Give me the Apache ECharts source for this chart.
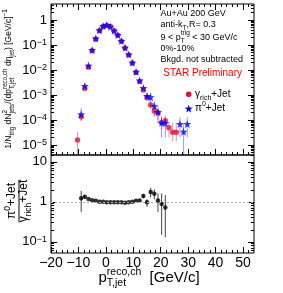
<!DOCTYPE html>
<html><head><meta charset="utf-8">
<script src="https://cdn.jsdelivr.net/npm/echarts@6/dist/echarts.min.js"></script>
<style>html,body{margin:0;padding:0;background:#fff}#c{width:283px;height:293px}</style>
</head><body><div id="c"></div>
<script>
// ---------------- data ----------------
const xBins = [-10.33,-9,-7.67,-6.33,-5,-3.67,-2.33,-1,0.33,1.67,3,4.33,5.67,7,8.33,9.67,11,12.33,13.67,15,16.33,17.67,19,20.33,21.67,23,24.33,25.67,27,28.33,29.67];
const gammaY = [1.6e-5,1.35e-4,1.8e-3,1.3e-2,5.9e-2,0.17,0.37,0.55,0.60,0.55,0.37,0.245,0.14,0.075,0.040,0.019,0.0079,0.0035,1.6e-3,8.0e-4,4.0e-4,2.3e-4,1.9e-4,8.0e-5,9.3e-5,4.9e-5,3.2e-5,3.2e-5,null,null,null];
const pi0Y   = [null,1.7e-4,2.3e-3,1.5e-2,6.3e-2,0.185,0.39,0.575,0.63,0.54,0.37,0.25,0.145,0.078,0.042,0.0196,0.0085,0.0038,1.9e-3,9.1e-4,8.1e-4,3.6e-4,2.1e-4,7.8e-5,7.5e-5,null,null,null,6.9e-5,3.4e-5,6.9e-5];
const gammaLo = [0,9e-5,1.5e-3,null,null,null,null,null,null,null,null,null,null,null,null,null,null,null,null,6e-4,2.7e-4,1.3e-4,1.0e-4,4e-5,4.5e-5,2e-5,1.4e-5,1.4e-5,null,null,null];
const gammaHi = [3.3e-5,1.8e-4,2.1e-3,null,null,null,null,null,null,null,null,null,null,null,null,null,null,null,null,1.0e-3,5.5e-4,3.3e-4,2.8e-4,1.3e-4,1.5e-4,8e-5,7.6e-5,7.6e-5,null,null,null];
const pi0Lo = [null,9.5e-5,1.8e-3,null,null,null,null,null,null,null,null,null,null,null,null,null,null,null,null,6e-4,3.5e-4,1.5e-4,7e-5,2e-5,2e-5,null,null,null,2e-5,0,2e-5];
const pi0Hi = [null,3.0e-4,2.8e-3,null,null,null,null,null,null,null,null,null,null,null,null,null,null,null,null,1.2e-3,1.2e-3,5.6e-4,3.5e-4,1.4e-4,1.3e-4,null,null,null,1.3e-4,7e-5,1.3e-4];
const ratioY  = [null,1.22,1.33,1.17,1.10,1.06,1.0,1.0,0.98,0.98,0.98,0.98,0.97,0.94,0.98,1.0,1.06,1.08,1.39,0.97,1.75,1.6,1.08,0.88,0.72,null,null,null,null,null,null];
const ratioLo = [null,0.56,1.2,null,null,null,null,null,null,null,null,null,null,null,null,null,null,null,1.22,0.75,1.29,1.15,0.56,0.15,0.13,null,null,null,null,null,null];
const ratioHi = [null,1.88,1.47,null,null,null,null,null,null,null,null,null,null,null,null,null,null,null,1.58,1.15,2.24,2.04,1.62,1.62,1.47,null,null,null,null,null,null];
const xTickLabels = [-20,-10,0,10,20,30,40,50];
const topYTicks = [1e-5,1e-4,1e-3,1e-2,1e-1,1];
const ratioYTicks = [0.1,1,10];

// ---------------- helpers ----------------
const FONT = '"Liberation Sans", Arial, Helvetica, sans-serif';
const X_MIN = -20, X_MAX = 54;
const TOP_MIN = Math.pow(10,-5.4), TOP_MAX = Math.pow(10,0.64);
const R_MIN = Math.pow(10,-1.28), R_MAX = Math.pow(10,1.17);
const ctx = document.createElement('canvas').getContext('2d');
function tw(t, s){ ctx.font = s+'px '+FONT; return ctx.measureText(t).width; }
function txt(t,x,y,s,color){ return {type:'text', x:x, y:y, silent:true, style:{text:t, font:s+'px '+FONT, fill:color, align:'left', verticalAlign:'middle', textAlign:'left', textVerticalAlign:'middle'}}; }
function mathLine(parts, size, ss, color, supK, subK){
  let x=0; const els=[];
  parts.forEach(p=>{
    if (typeof p==='string'){ els.push(txt(p,x,0,size,color)); x+=tw(p,size); }
    else { let w=0;
      if (p.sup){ els.push(txt(p.sup,x,-size*supK,ss,color)); w=Math.max(w,tw(p.sup,ss)); }
      if (p.sub){ els.push(txt(p.sub,x,size*subK,ss,color)); w=Math.max(w,tw(p.sub,ss)); }
      x+=w; }
  });
  return {els:els, width:x};
}
function shift(els, dx, dy){ return els.map(e=>Object.assign({}, e, {x:e.x+dx, y:e.y+dy})); }
function minorLog(lo, hi){ const r=[]; for(let e=-7;e<=2;e++){ for(let m=2;m<=9;m++){ const v=m*Math.pow(10,e); if(v>lo && v<hi) r.push(v);} } return r; }
function minorLin(){ const r=[]; for(let v=-18; v<54; v+=2){ if(v%10!==0) r.push(v);} return r; }
function logLabel(v){ const e=Math.round(Math.log10(v)); if(e===0) return '1'; if(e===1) return '10'; return '{b|10}{s|'+(e<0?'\u2212':'')+Math.abs(e)+'}'; }
function starPoints(cx, cy, R){ const r=R*0.4, p=[]; for(let i=0;i<10;i++){ const a=-Math.PI/2+i*Math.PI/5; const rr=(i%2===0)?R:r; p.push([cx+rr*Math.cos(a), cy+rr*Math.sin(a)]); } return p; }

const tickStyle = {color:'#000', width:1};
function xAx(grid, pos, vals, len, label){
  return {type:'value', gridIndex:grid, position:pos, min:X_MIN, max:X_MAX,
    axisLine:{show:false, onZero:false}, splitLine:{show:false},
    axisTick:{show:true, inside:true, length:len, customValues:vals, lineStyle:tickStyle},
    axisLabel: label ? {show:true, customValues:xTickLabels, margin:3, fontSize:14, fontFamily:FONT, color:'#000',
      showMinLabel:true, showMaxLabel:true, hideOverlap:false,
      formatter:v=> v<0 ? '\u2212'+Math.abs(v) : String(v)} : {show:false}};
}
function yAx(grid, pos, min, max, vals, len, labelVals){
  return {type:'log', logBase:10, gridIndex:grid, position:pos, min:min, max:max,
    axisLine:{show:false, onZero:false}, splitLine:{show:false},
    axisTick:{show:true, inside:true, length:len, customValues:vals, lineStyle:tickStyle},
    axisLabel: labelVals ? {show:true, customValues:labelVals, margin:4, fontSize:13, fontFamily:FONT, color:'#000',
      showMinLabel:true, showMaxLabel:true, hideOverlap:false,
      formatter:logLabel, rich:{b:{fontSize:13, fontFamily:FONT, color:'#000'}, s:{fontSize:9, fontFamily:FONT, color:'#000', verticalAlign:'top'}}} : {show:false}};
}
const majX = xTickLabels, minX = minorLin();
const topMinor = minorLog(TOP_MIN, TOP_MAX), rMinor = minorLog(R_MIN, R_MAX);

const xAxes = [
  xAx(0,'bottom',majX,6,false), xAx(0,'bottom',minX,3,false), xAx(0,'top',majX,6,false), xAx(0,'top',minX,3,false),
  xAx(1,'bottom',majX,6,true),  xAx(1,'bottom',minX,3,false)
];
const yAxes = [
  yAx(0,'left',TOP_MIN,TOP_MAX,topYTicks,6,topYTicks), yAx(0,'left',TOP_MIN,TOP_MAX,topMinor,3,null),
  yAx(0,'right',TOP_MIN,TOP_MAX,topYTicks,6,null), yAx(0,'right',TOP_MIN,TOP_MAX,topMinor,3,null),
  yAx(1,'left',R_MIN,R_MAX,ratioYTicks,6,ratioYTicks), yAx(1,'left',R_MIN,R_MAX,rMinor,3,null),
  yAx(1,'right',R_MIN,R_MAX,ratioYTicks,6,null), yAx(1,'right',R_MIN,R_MAX,rMinor,3,null)
];

function pts(ys){ const d=[]; xBins.forEach((x,i)=>{ if(ys[i]!=null) d.push([x,ys[i]]); }); return d; }
function errSeries(lo, hi, xi, yi, color, z){
  const data=[]; xBins.forEach((x,i)=>{ if(lo[i]!=null && hi[i]!=null) data.push([x,lo[i],hi[i]]); });
  return {type:'custom', xAxisIndex:xi, yAxisIndex:yi, silent:true, z:z, data:data, encode:{x:0, y:[1,2]},
    renderItem:function(params, api){
      const cs=params.coordSys; const x=api.value(0);
      const bottom=cs.y+cs.height, top=cs.y;
      const vlo=api.value(1), vhi=api.value(2);
      let y1 = vlo>0 ? api.coord([x,vlo])[1] : bottom;
      const ph = api.coord([x,vhi]);
      let y2 = ph[1];
      y1=Math.min(Math.max(y1,top),bottom); y2=Math.min(Math.max(y2,top),bottom);
      return {type:'line', shape:{x1:ph[0],y1:y1,x2:ph[0],y2:y2}, style:{stroke:color, lineWidth:1}};
    }};
}
const STAR = 'path://M0,-10L2.35,-3.24L9.51,-3.09L3.8,1.24L5.88,8.09L0,4L-5.88,8.09L-3.8,1.24L-9.51,-3.09L-2.35,-3.24Z';
const RED = '#dc143c', BLUE = '#0000ff';

// ---------------- text graphics ----------------
const graphics = [];
(function(){
  const m = mathLine(['1/N',{sub:'trig'},' dN',{sup:'2',sub:'jets'},'/(dp',{sup:'reco,ch',sub:'T,jet'},' d\u03b7',{sub:'jet'},') [GeV/c]',{sup:'\u22121'}], 8.5, 6.3, '#000', 0.42, 0.38);
  graphics.push({type:'group', x:9, y:79+m.width/2, rotation:Math.PI/2, children:m.els});
})();
(function(){
  const n = mathLine(['\u03c0',{sup:'0'},'+Jet'], 12, 8.5, '#000', 0.4, 0.38);
  const d = mathLine(['\u03b3',{sub:'rich'},'+Jet'], 12, 8.5, '#000', 0.4, 0.38);
  const L = Math.max(n.width,d.width);
  const ch = shift(n.els, -n.width/2, -7).concat(shift(d.els, -d.width/2, 5));
  ch.push({type:'line', silent:true, shape:{x1:-L/2, y1:0, x2:L/2, y2:0}, style:{stroke:'#000', lineWidth:1}});
  graphics.push({type:'group', x:19, y:201, rotation:Math.PI/2, children:ch});
})();
(function(){
  const m = mathLine(['p',{sup:'reco,ch',sub:'T,jet'},'  [GeV/c]'], 15, 10.5, '#000', 0.42, 0.36);
  graphics.push({type:'group', x:98.5, y:278, children:m.els});
})();
(function(){
  const lines = [
    [['Au+Au 200 GeV'], 13.3],
    [['anti-k',{sub:'T'},',R= 0.3'], 25],
    [['9 < p',{sup:'trig',sub:'T'},' < 30 GeV/c'], 37.3],
    [['0%-10%'], 48.3],
    [['Bkgd. not subtracted'], 59.3]
  ];
  lines.forEach(l=>{ const m=mathLine(l[0], 9, 6.5, '#000', 0.4, 0.38); graphics.push({type:'group', x:160.5, y:l[1], children:m.els}); });
  graphics.push({type:'group', x:163.3, y:73.3, children:[txt('STAR Preliminary',0,0,10,'#ff0000')]});
})();
(function(){
  graphics.push({type:'circle', silent:true, shape:{cx:188.7, cy:94.3, r:2.8}, style:{fill:RED}});
  graphics.push({type:'polygon', silent:true, shape:{points:starPoints(188.7, 109, 4.3)}, style:{fill:BLUE}});
  const a = mathLine(['\u03b3',{sub:'rich'},'+Jet'], 10, 7, '#000', 0.4, 0.4);
  const b = mathLine(['\u03c0',{sup:'0'},'+Jet'], 10, 7, '#000', 0.4, 0.4);
  graphics.push({type:'group', x:195, y:94, children:a.els});
  graphics.push({type:'group', x:195, y:108.5, children:b.els});
})();

const chart = echarts.init(document.getElementById('c'), null, {renderer:'canvas'});
chart.setOption({
  animation:false,
  backgroundColor:'#fff',
  grid:[
    {left:51, top:4, width:203, height:151, show:true, borderColor:'#000', borderWidth:1, backgroundColor:'transparent', containLabel:false, outerBoundsMode:'none'},
    {left:51, top:155, width:203, height:98, show:true, borderColor:'#000', borderWidth:1, backgroundColor:'transparent', containLabel:false, outerBoundsMode:'none'}
  ],
  xAxis:xAxes,
  yAxis:yAxes,
  series:[
    errSeries(gammaLo, gammaHi, 0, 0, 'rgba(220,20,60,0.45)', 1),
    errSeries(pi0Lo, pi0Hi, 0, 0, 'rgba(0,0,255,0.4)', 1),
    {name:'gamma_rich+Jet', type:'scatter', xAxisIndex:0, yAxisIndex:0, data:pts(gammaY), symbol:'circle', symbolSize:5.5, itemStyle:{color:RED}, z:2, silent:true},
    {name:'pi0+Jet', type:'scatter', xAxisIndex:0, yAxisIndex:0, data:pts(pi0Y), symbol:STAR, symbolSize:8, itemStyle:{color:BLUE}, z:3, silent:true},
    errSeries(ratioLo, ratioHi, 4, 4, '#444', 1),
    {name:'ratio', type:'scatter', xAxisIndex:4, yAxisIndex:4, data:pts(ratioY), symbol:'circle', symbolSize:4.5, itemStyle:{color:'#000'}, z:3, silent:true,
      markLine:{silent:true, symbol:'none', label:{show:false}, lineStyle:{color:'#aaa', type:[2,2], width:1}, data:[{yAxis:1}]}}
  ],
  graphic:graphics
});
</script></body></html>
